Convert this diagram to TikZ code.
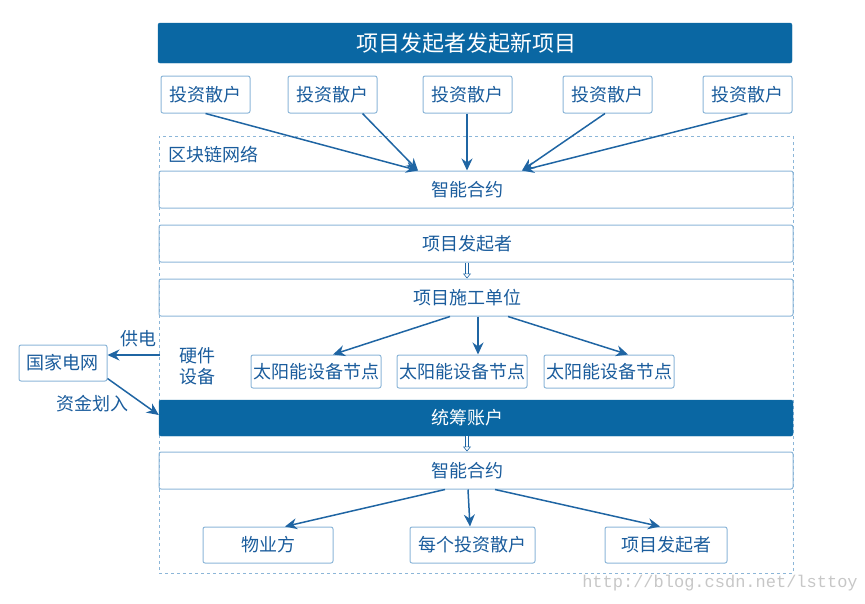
\documentclass[tikz,border=0pt]{standalone}
\usepackage{fontspec}
\setmainfont{Noto Sans CJK SC}
\newfontfamily\markfont{Liberation Mono}
\usepackage{tikz}
\usepackage{xcolor}
\usetikzlibrary{arrows.meta}

\definecolor{barblue}{HTML}{0A67A3}
\definecolor{txtblue}{HTML}{1A5C9C}
\definecolor{edgeblue}{HTML}{8CB6D8}
\definecolor{arrblue}{HTML}{1F65A3}

\begin{document}
\begin{tikzpicture}[x=1pt,y=-1pt,
    bar/.style={fill=barblue, draw=barblue, rounded corners=2pt, text=white,
        font=\fontsize{22}{25}\selectfont, inner sep=0pt},
    cell/.style={draw=edgeblue, line width=1pt, rounded corners=2pt, text=txtblue,
        font=\fontsize{18}{21}\selectfont, inner sep=0pt},
    wide/.style={minimum width=634pt, execute at end node={\hspace*{17pt}}},
    plain/.style={text=txtblue, font=\fontsize{18}{21}\selectfont, inner sep=0pt},
    arr/.style={draw=arrblue, line width=1.5pt, -{Stealth[length=12pt,width=11pt]}},
    hollow/.style={draw=arrblue, line width=0.6pt, double=white, double distance=2.4pt,
        -{Triangle[open,length=5pt,width=8pt]}}]
    \useasboundingbox (0,0) rectangle (865,603);
    % title
    \node[bar, wide, minimum height=40pt] (title) at (475,43) {项目发起者发起新项目};
    % investors
    \foreach \i/\x in {1/205.5, 2/332.5, 3/467.5, 4/607.5, 5/747.5}
        \node[cell, minimum width=89pt, minimum height=37pt] (inv\i) at (\x,94.5) {投资散户};
    % blockchain network
    \node[draw=edgeblue, dashed, line width=0.8pt, minimum width=634pt, minimum height=437pt,
        inner sep=0pt] (chain) at (476,354.5) {};
    \node[plain, anchor=west] (chainlbl) at (168,155) {区块链网络};
    \node[cell, wide, minimum height=37pt] (sc1) at (476,189.5) {智能合约};
    \node[cell, wide, minimum height=37pt] (initiator) at (476,243.5) {项目发起者};
    \node[cell, wide, minimum height=37pt] (builder) at (476,297.5) {项目施工单位};
    \node[cell, minimum width=130pt, minimum height=33pt] (solar1) at (316,371.5) {太阳能设备节点};
    \node[cell, minimum width=130pt, minimum height=33pt] (solar2) at (462,371.5) {太阳能设备节点};
    \node[cell, minimum width=130pt, minimum height=33pt] (solar3) at (609,371.5) {太阳能设备节点};
    \node[plain, align=center] (hw) at (197,366) {硬件\\设备};
    \node[bar, wide, minimum height=36pt, font=\fontsize{18}{21}\selectfont] (account) at (476,418) {统筹账户};
    \node[cell, wide, minimum height=37pt] (sc2) at (476,470.5) {智能合约};
    \node[cell, minimum width=130pt, minimum height=36pt] (owner) at (268,545) {物业方};
    \node[cell, minimum width=125pt, minimum height=36pt] (each) at (472.5,545) {每个投资散户};
    \node[cell, minimum width=122pt, minimum height=36pt] (init2) at (666,545) {项目发起者};
    % grid
    \node[cell, minimum width=88pt, minimum height=36pt] (grid) at (63,363) {国家电网};
    \coordinate (feed) at (160,355);
    \node[plain] (feedlbl) at (138,339) {供电};
    \node[plain] (paylbl) at (92,404) {资金划入};
    % connectors
    \draw[arr] (inv1.south) -- ([xshift=-58pt]sc1.north);
    \draw[arr] ([xshift=30pt]inv2.south) -- ([xshift=-58pt]sc1.north);
    \draw[arr] ([xshift=-0.5pt]inv3.south) -- ([xshift=-9pt]sc1.north);
    \draw[arr] ([xshift=-2.5pt]inv4.south) -- ([xshift=46pt]sc1.north);
    \draw[arr] (inv5.south) -- ([xshift=46pt]sc1.north);
    \draw[hollow] ([xshift=-9pt]initiator.south) -- ([xshift=-9pt]builder.north);
    \draw[arr] ([xshift=-26pt]builder.south) -- ([xshift=17pt]solar1.north);
    \draw[arr] ([xshift=2pt]builder.south) -- ([xshift=16pt]solar2.north);
    \draw[arr] ([xshift=32pt]builder.south) -- ([xshift=19pt]solar3.north);
    \draw[arr] (feed) -- ([yshift=8pt]grid.east);
    \draw[arr] ([yshift=3pt]grid.south east) -- ([yshift=3pt]account.west);
    \draw[hollow] ([xshift=-9pt]account.south) -- ([xshift=-9pt]sc2.north);
    \draw[arr] ([xshift=-31pt]sc2.south) -- ([xshift=17pt]owner.north);
    \draw[arr] ([xshift=-8pt]sc2.south) -- ([xshift=-2.5pt]each.north);
    \draw[arr] ([xshift=19pt]sc2.south) -- ([xshift=-6pt]init2.north);
    % watermark
    \node[text=black!22, font=\markfont\fontsize{17}{19}\selectfont, inner sep=0pt] (mark) at (720,583) {http://blog.csdn.net/lsttoy};
\end{tikzpicture}
\end{document}
